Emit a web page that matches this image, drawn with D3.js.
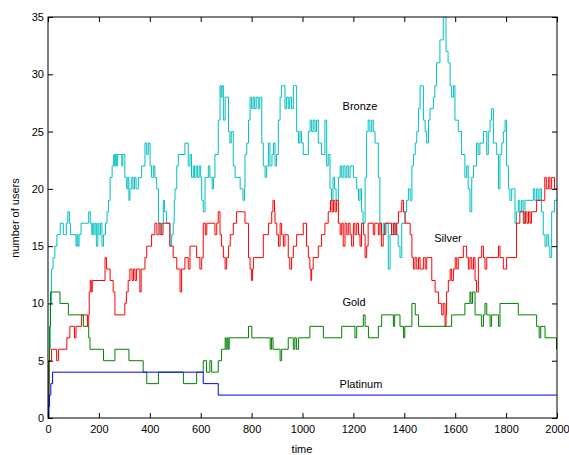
<!DOCTYPE html>
<html>
<head>
<meta charset="utf-8">
<script src="https://cdn.jsdelivr.net/npm/d3@7"></script>
<style>
  body { margin: 0; background: #fff; }
  text { font-family: "Liberation Sans", Arial, sans-serif; }
</style>
</head>
<body>
<div id="canvas"></div>
<script>
// data: [time, value] breakpoints (steps)
var bronzeT = [0,3,6,9,14,20,27,35,48,60,72,78,84,88,110,114,118,122,130,160,166,172,176,180,185,190,196,200,206,212,218,226,232,238,244,252,258,262,266,270,274,290,294,302,309,314,318,322,329,334,340,346,355,368,381,388,394,401,407,414,420,427,434,440,447,453,458,466,479,486,492,496,499,506,512,538,551,558,564,571,576,582,588,594,600,604,610,617,630,636,645,650,656,669,676,680,684,689,696,709,715,720,728,735,748,755,766,772,774,781,788,794,800,806,812,818,826,832,840,846,853,859,866,872,880,886,892,898,905,912,918,931,937,944,950,957,964,977,984,990,996,1003,1023,1030,1036,1042,1049,1055,1062,1075,1088,1095,1101,1108,1114,1120,1126,1132,1141,1148,1154,1160,1167,1174,1180,1187,1200,1213,1220,1226,1232,1238,1246,1252,1258,1265,1272,1278,1285,1298,1304,1310,1317,1322,1328,1337,1344,1350,1357,1363,1370,1376,1383,1390,1403,1409,1416,1423,1430,1436,1443,1449,1456,1462,1475,1482,1488,1495,1501,1514,1520,1527,1540,1553,1564,1572,1580,1586,1593,1599,1612,1625,1638,1645,1651,1658,1665,1672,1684,1690,1697,1711,1724,1730,1737,1743,1750,1763,1770,1776,1783,1789,1796,1802,1809,1815,1822,1835,1841,1848,1854,1861,1867,1874,1907,1913,1920,1926,1933,1939,1946,1953,1960,1966,1972,1979,1990];
var bronzeV = [0,3,6,10,13,14,15,16,17,16,17,18,17,16,15,16,15,16,17,18,17,16,17,16,17,15,17,16,17,15,16,17,18,19,21,22,23,22,23,22,23,22,23,21,20,21,19,20,21,20,21,20,21,22,24,23,24,22,21,22,21,20,17,16,17,19,18,17,15,16,17,19,20,22,23,24,22,23,21,22,21,22,21,22,21,19,18,21,22,21,20,21,23,26,29,28,29,26,28,25,24,25,22,21,21,20,19,20,23,24,26,28,27,28,27,28,27,28,24,22,21,22,24,22,23,24,22,23,26,28,29,27,28,27,28,27,29,25,24,25,24,23,25,26,25,26,25,26,24,23,26,22,23,20,19,21,20,19,21,22,21,22,21,22,21,22,21,20,19,20,18,17,21,25,26,25,26,25,24,21,17,16,17,16,17,13,16,17,16,17,16,15,14,17,18,19,20,19,22,23,24,25,27,29,26,25,24,26,27,28,29,31,33,35,32,31,29,28,29,26,25,23,21,22,20,18,21,22,24,23,24,25,23,25,26,27,24,23,20,23,24,25,26,22,20,19,20,17,18,19,18,19,17,19,20,19,20,19,20,18,16,15,16,15,14,18,19];

var silverT = [0,2,4,14,34,41,74,86,104,110,132,155,160,162,166,170,174,224,230,244,256,263,302,308,315,322,330,336,342,348,361,366,381,388,407,420,428,436,444,452,479,492,506,519,525,538,551,558,584,597,604,610,618,624,656,663,669,676,682,689,696,702,709,716,728,741,774,788,794,800,804,807,846,866,879,884,890,892,899,906,912,918,925,931,944,950,957,964,977,1003,1016,1023,1029,1033,1036,1042,1062,1075,1088,1101,1110,1116,1122,1128,1134,1141,1148,1154,1160,1167,1174,1180,1187,1193,1200,1206,1213,1220,1226,1232,1240,1246,1252,1258,1278,1284,1298,1304,1310,1317,1324,1350,1357,1364,1370,1377,1390,1397,1403,1423,1430,1436,1442,1449,1456,1462,1475,1482,1488,1508,1521,1534,1547,1553,1560,1564,1566,1573,1580,1586,1593,1600,1606,1612,1632,1645,1652,1658,1665,1672,1678,1684,1691,1704,1711,1717,1724,1770,1776,1789,1802,1841,1854,1870,1876,1882,1888,1894,1900,1920,1952,1958,1966,1972,1979,1990];
var silverV = [0,2,5,6,5,6,7,8,7,8,9,8,9,11,12,11,12,14,13,12,11,9,10,11,12,13,12,13,12,13,11,13,14,15,16,17,16,17,16,17,15,14,13,11,13,14,13,15,14,13,14,17,16,17,16,17,18,16,15,14,13,14,15,16,17,18,17,14,13,12,13,14,16,17,18,19,18,17,16,15,17,16,15,16,14,13,14,15,16,17,15,14,13,12,13,14,15,16,17,18,19,18,19,18,19,17,16,17,15,17,16,17,16,15,17,16,17,16,15,17,16,14,15,17,16,17,16,17,15,16,17,16,17,16,17,18,19,18,17,16,14,13,14,13,14,13,14,13,14,12,11,10,9,10,8,9,11,12,13,12,13,14,13,14,15,14,13,14,13,14,12,11,14,15,14,13,14,15,14,13,14,17,18,17,18,17,18,17,18,19,21,20,21,20,21,20];

var goldT = [0,3,6,10,47,80,139,160,165,218,263,318,374,388,434,532,584,610,623,636,643,669,682,696,700,704,708,712,788,801,873,878,884,912,918,944,964,970,976,984,1029,1082,1154,1206,1213,1239,1246,1259,1298,1311,1357,1362,1383,1397,1402,1430,1443,1456,1586,1638,1658,1662,1668,1678,1704,1711,1717,1724,1737,1743,1770,1776,1848,1920,1930,1936,1953,1998];
var goldV = [0,5,8,11,10,9,8,7,6,5,6,5,4,3,4,3,4,5,4,5,4,5,6,7,6,7,6,7,8,7,6,7,6,5,6,7,6,7,6,7,8,7,8,7,8,9,8,7,8,9,8,9,8,7,8,10,9,8,9,10,11,10,11,9,8,9,10,9,8,9,8,10,9,8,7,8,7,6];

var platinumT = [0,3,6,11,18,610,669];
var platinumV = [0,1,2,3,4,3,2];

var xTicks = [0,200,400,600,800,1000,1200,1400,1600,1800,2000];
var yTicks = [0,5,10,15,20,25,30,35];

var series = [
  {name: "Bronze", t: bronzeT, v: bronzeV, color: "#00bfbf", lx: 360, ly: 106},
  {name: "Silver", t: silverT, v: silverV, color: "#ff0000", lx: 448, ly: 238},
  {name: "Gold", t: goldT, v: goldV, color: "#008000", lx: 354, ly: 302},
  {name: "Platinum", t: platinumT, v: platinumV, color: "#0000ff", lx: 361, ly: 384}
];

var W = 569, H = 455;
var x = d3.scaleLinear().domain([0, 2000]).range([48, 557]);
var y = d3.scaleLinear().domain([0, 35]).range([418, 17]);

var svg = d3.select("#canvas").append("svg")
  .attr("width", W)
  .attr("height", H);

svg.append("clipPath").attr("id", "clip")
  .append("rect")
  .attr("x", x(0)).attr("y", y(35))
  .attr("width", x(2000) - x(0)).attr("height", y(0) - y(35));

var line = d3.line()
  .x((d) => x(d[0]))
  .y((d) => y(d[1]))
  .curve(d3.curveStepAfter);

var g = svg.append("g").attr("clip-path", "url(#clip)");
series.forEach((s) => {
  var pts = s.t.map((t, i) => [t, s.v[i]]);
  pts.push([2000, s.v[s.v.length - 1]]);
  g.append("path")
    .attr("d", line(pts))
    .attr("fill", "none")
    .attr("stroke", s.color)
    .attr("stroke-width", 1);
});

// axes, MATLAB style: ticks inside, box all round
function styleAxis(sel) {
  sel.select(".domain").remove();
  sel.selectAll("line").attr("stroke", "#000");
  sel.selectAll("text").attr("font-size", "11px").attr("fill", "#000");
}
svg.append("g").attr("transform", "translate(0," + y(0) + ")")
  .call(d3.axisBottom(x).tickValues(xTicks).tickSize(-5).tickPadding(7).tickFormat(d3.format("d")))
  .call(styleAxis);
svg.append("g").attr("transform", "translate(0," + y(35) + ")")
  .call(d3.axisTop(x).tickValues(xTicks).tickSize(-5).tickFormat(""))
  .call(styleAxis);
svg.append("g").attr("transform", "translate(" + x(0) + ",0)")
  .call(d3.axisLeft(y).tickValues(yTicks).tickSize(-5).tickPadding(4))
  .call(styleAxis);
svg.append("g").attr("transform", "translate(" + x(2000) + ",0)")
  .call(d3.axisRight(y).tickValues(yTicks).tickSize(-5).tickFormat(""))
  .call(styleAxis);

svg.append("rect")
  .attr("x", x(0)).attr("y", y(35))
  .attr("width", x(2000) - x(0)).attr("height", y(0) - y(35))
  .attr("fill", "none")
  .attr("stroke", "#000")
  .attr("stroke-width", 1);

// series labels
series.forEach((s) => {
  svg.append("text")
    .attr("x", s.lx)
    .attr("y", s.ly)
    .attr("dy", "0.35em")
    .attr("text-anchor", "middle")
    .attr("font-size", "11px")
    .text(s.name);
});

// axis labels
svg.append("text")
  .attr("x", 302)
  .attr("y", 453)
  .attr("text-anchor", "middle")
  .attr("font-size", "11px")
  .text("time");

svg.append("text")
  .attr("transform", "translate(15,218) rotate(-90)")
  .attr("dy", "0.35em")
  .attr("text-anchor", "middle")
  .attr("font-size", "11px")
  .text("number of users");
</script>
</body>
</html>
